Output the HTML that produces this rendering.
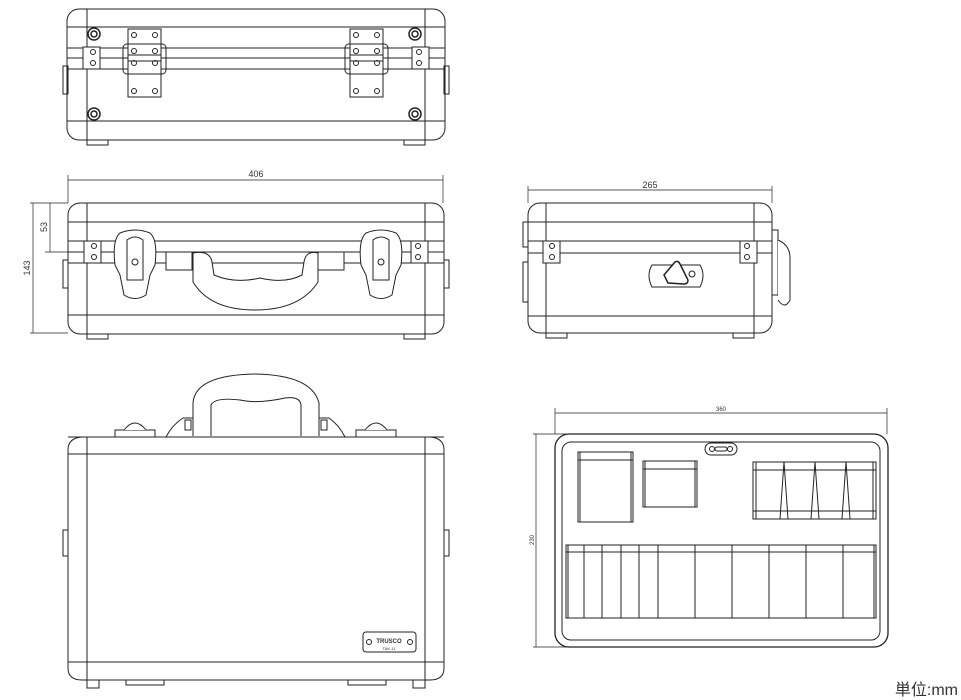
<!DOCTYPE html>
<html><head><meta charset="utf-8"><style>
html,body{margin:0;padding:0;background:#fff;}
svg{display:block;}
text{font-family:"Liberation Sans",sans-serif;fill:#333;}
</style></head><body>
<svg width="961" height="700" viewBox="0 0 961 700" xmlns="http://www.w3.org/2000/svg" fill="none" stroke="#222" stroke-width="1">
<!-- ===== VIEW 1 (top/back) ===== -->
<rect x="67" y="9" width="378" height="131" rx="12"/>
<line x1="87" y1="9" x2="87" y2="140"/><line x1="425" y1="9" x2="425" y2="140"/>
<line x1="67" y1="27" x2="445" y2="27"/>
<line x1="67" y1="48" x2="445" y2="48"/>
<line x1="67" y1="58" x2="445" y2="58"/>
<line x1="67" y1="69" x2="445" y2="69"/>
<line x1="67" y1="121" x2="445" y2="121"/>
<rect x="87" y="140" width="21" height="5"/><rect x="404" y="140" width="21" height="5"/>
<g stroke-width="1.5">
<circle cx="94" cy="34" r="6"/><circle cx="94" cy="34" r="3"/>
<circle cx="415" cy="34" r="6"/><circle cx="415" cy="34" r="3"/>
<circle cx="94" cy="114" r="6"/><circle cx="94" cy="114" r="3"/>
<circle cx="415" cy="114" r="6"/><circle cx="415" cy="114" r="3"/>
</g>
<rect x="128" y="29" width="33" height="68" fill="#fff"/>
<rect x="123" y="44" width="43" height="30" rx="4"/>
<rect x="128" y="55" width="33" height="6"/>
<circle cx="134" cy="35" r="2.5"/><circle cx="155" cy="35" r="2.5"/>
<circle cx="134" cy="51" r="2.5"/><circle cx="155" cy="51" r="2.5"/>
<circle cx="134" cy="63" r="2.5"/><circle cx="155" cy="63" r="2.5"/>
<circle cx="134" cy="91" r="2.5"/><circle cx="155" cy="91" r="2.5"/>
<rect x="350" y="29" width="33" height="68" fill="#fff"/>
<rect x="345" y="44" width="43" height="30" rx="4"/>
<rect x="350" y="55" width="33" height="6"/>
<circle cx="356" cy="35" r="2.5"/><circle cx="377" cy="35" r="2.5"/>
<circle cx="356" cy="51" r="2.5"/><circle cx="377" cy="51" r="2.5"/>
<circle cx="356" cy="63" r="2.5"/><circle cx="377" cy="63" r="2.5"/>
<circle cx="356" cy="91" r="2.5"/><circle cx="377" cy="91" r="2.5"/>
<rect x="83" y="47" width="17" height="22" fill="#fff"/><circle cx="93" cy="52" r="2.5"/><circle cx="93" cy="63" r="2.5"/>
<rect x="412" y="47" width="17" height="22" fill="#fff"/><circle cx="419" cy="52" r="2.5"/><circle cx="419" cy="63" r="2.5"/>
<rect x="63" y="66" width="5" height="28"/><rect x="444" y="66" width="5" height="28"/>

<!-- ===== VIEW 2 (front) ===== -->
<line x1="68" y1="175" x2="68" y2="203" stroke-width="0.7"/>
<line x1="443" y1="175" x2="443" y2="203" stroke-width="0.7"/>
<line x1="68" y1="180" x2="443" y2="180" stroke-width="0.7"/>
<text x="256" y="177" font-size="9" stroke="none" text-anchor="middle">406</text>
<line x1="30" y1="203" x2="68" y2="203" stroke-width="0.7"/>
<line x1="30" y1="333" x2="68" y2="333" stroke-width="0.7"/>
<line x1="45" y1="252" x2="68" y2="252" stroke-width="0.7"/>
<line x1="33" y1="203" x2="33" y2="333" stroke-width="0.7"/>
<line x1="50" y1="203" x2="50" y2="252" stroke-width="0.7"/>
<text transform="translate(30,268) rotate(-90)" font-size="9" stroke="none" text-anchor="middle">143</text>
<text transform="translate(47,227) rotate(-90)" font-size="9" stroke="none" text-anchor="middle">53</text>
<rect x="68" y="203" width="376" height="131" rx="12"/>
<line x1="87" y1="203" x2="87" y2="334"/><line x1="425" y1="203" x2="425" y2="334"/>
<line x1="68" y1="222" x2="444" y2="222"/>
<line x1="68" y1="241" x2="444" y2="241"/>
<line x1="68" y1="252" x2="444" y2="252"/>
<line x1="68" y1="263" x2="444" y2="263"/>
<line x1="68" y1="315" x2="444" y2="315"/>
<rect x="87" y="334" width="21" height="5"/><rect x="404" y="334" width="21" height="5"/>
<rect x="84" y="241" width="17" height="22" fill="#fff"/><circle cx="94" cy="246" r="2.5"/><circle cx="94" cy="257" r="2.5"/>
<rect x="411" y="241" width="17" height="22" fill="#fff"/><circle cx="418" cy="246" r="2.5"/><circle cx="418" cy="257" r="2.5"/>
<rect x="63" y="260" width="5" height="28"/><rect x="444" y="260" width="5" height="28"/>
<!-- handle -->
<rect x="166" y="252" width="26" height="18" fill="#fff"/><rect x="318" y="252" width="26" height="18" fill="#fff"/>
<path d="M193 253 Q210 250 212 262 L214 275 Q235 284 260 278 Q285 284 302 275 L304 262 Q306 250 318 253 L318 282 Q300 310 255 310 Q210 310 193 282 Z" fill="#fff"/>
<!-- latches -->
<g fill="#fff">
<path d="M120 233 Q135 227 150 233 Q158 240 155 265 L150 275 L146 295 Q135 302 124 295 L120 275 L115 265 Q112 240 120 233 Z"/>
<path d="M127 240 Q135 234 143 240 L143 280 L127 280 Z"/>
<circle cx="135" cy="262" r="3"/>
<path d="M366 233 Q381 227 396 233 Q404 240 401 265 L396 275 L392 295 Q381 302 370 295 L366 275 L361 265 Q358 240 366 233 Z"/>
<path d="M373 240 Q381 234 389 240 L389 280 L373 280 Z"/>
<circle cx="381" cy="262" r="3"/>
</g>

<!-- ===== VIEW 3 (side) ===== -->
<line x1="528" y1="186" x2="528" y2="203" stroke-width="0.7"/>
<line x1="772" y1="186" x2="772" y2="203" stroke-width="0.7"/>
<line x1="528" y1="190" x2="772" y2="190" stroke-width="0.7"/>
<text x="650" y="188" font-size="9" stroke="none" text-anchor="middle">265</text>
<rect x="528" y="203" width="244" height="130" rx="12"/>
<line x1="546" y1="203" x2="546" y2="333"/><line x1="754" y1="203" x2="754" y2="333"/>
<line x1="528" y1="222" x2="772" y2="222"/>
<line x1="528" y1="241" x2="772" y2="241"/>
<line x1="528" y1="253" x2="772" y2="253"/>
<line x1="528" y1="316" x2="772" y2="316"/>
<rect x="546" y="333" width="21" height="5"/><rect x="733" y="333" width="21" height="5"/>
<rect x="543" y="241" width="17" height="22" fill="#fff"/><circle cx="552" cy="246" r="2.5"/><circle cx="552" cy="257" r="2.5"/>
<rect x="740" y="241" width="17" height="22" fill="#fff"/><circle cx="747" cy="246" r="2.5"/><circle cx="747" cy="257" r="2.5"/>
<rect x="523" y="222" width="5" height="25"/><rect x="523" y="262" width="5" height="40"/>
<path d="M772 230 L778 230 L778 295 L772 295" /><path d="M778 240 Q790 245 790 258 L790 300 Q785 310 778 300" fill="#fff"/>
<path d="M652 265 L700 265 Q706 275 700 287 L652 287 Q646 275 652 265 Z" fill="#fff"/>
<path d="M664 275 L675 262 Q678 260 680 264 L688 280 Q688 284 684 284 L668 283 Z" fill="#fff" stroke-width="1.5"/>
<circle cx="692" cy="274" r="3"/>

<!-- ===== VIEW 4 (large side) ===== -->
<path d="M82 437 Q68 438 68 450 L68 668 Q68 680 82 680 L430 680 Q444 680 444 668 L444 450 Q444 438 430 437 Z"/>
<line x1="87" y1="437" x2="87" y2="680"/><line x1="425" y1="437" x2="425" y2="680"/>
<line x1="68" y1="454" x2="444" y2="454"/>
<line x1="68" y1="662" x2="444" y2="662"/>
<line x1="68" y1="437" x2="444" y2="437"/>
<rect x="87" y="680" width="12" height="8"/><rect x="413" y="680" width="12" height="8"/>
<rect x="126" y="680" width="38" height="5"/><rect x="348" y="680" width="38" height="5"/>
<rect x="63" y="530" width="5" height="26"/><rect x="444" y="530" width="5" height="26"/>
<!-- top handle -->
<path d="M193 436 L193 403 Q195 375 255 374 Q312 375 319 403 L319 436" fill="#fff"/>
<path d="M211 436 L211 405 Q215 397 240 400 Q258 404 285 398 Q300 396 301 405 L301 436" fill="#fff"/>
<path d="M166 437 Q172 425 183 418 L193 418 M345 437 Q339 425 329 418 L319 418"/>
<line x1="166" y1="437" x2="211" y2="437"/><line x1="301" y1="437" x2="346" y2="437"/>
<rect x="185" y="420" width="6" height="10"/><rect x="321" y="420" width="6" height="10"/>
<rect x="115" y="430" width="40" height="7" fill="#fff"/><path d="M124 430 Q135 416 146 430" fill="#fff"/>
<rect x="356" y="430" width="40" height="7" fill="#fff"/><path d="M365 430 Q376 416 387 430" fill="#fff"/>
<rect x="363" y="632" width="53" height="20" rx="3"/>
<circle cx="369" cy="642" r="2.5"/><circle cx="410" cy="642" r="2.5"/>
<text x="389" y="643" font-size="6" font-weight="bold" stroke="none" text-anchor="middle">TRUSCO</text>
<text x="389" y="650" font-size="4" stroke="none" text-anchor="middle">TAK-11</text>

<!-- ===== VIEW 5 (insert) ===== -->
<line x1="555" y1="408" x2="555" y2="434" stroke-width="0.7"/>
<line x1="887" y1="408" x2="887" y2="434" stroke-width="0.7"/>
<line x1="555" y1="413" x2="887" y2="413" stroke-width="0.7"/>
<text x="721" y="411" font-size="6" stroke="none" text-anchor="middle">360</text>
<line x1="533" y1="434" x2="588" y2="434" stroke-width="0.7"/>
<line x1="533" y1="647" x2="588" y2="647" stroke-width="0.7"/>
<line x1="536" y1="434" x2="536" y2="647" stroke-width="0.7"/>
<text transform="translate(534,540) rotate(-90)" font-size="6" stroke="none" text-anchor="middle">230</text>
<rect x="555" y="434" width="333" height="213" rx="14" stroke-width="1.3"/>
<rect x="562" y="442" width="318" height="198" rx="9"/>
<rect x="705" y="443" width="32" height="12" rx="6"/>
<circle cx="712" cy="449" r="2.5"/><circle cx="730" cy="449" r="2.5"/><rect x="715" y="447" width="12" height="4" rx="2"/>
<rect x="578" y="452" width="55" height="70"/><line x1="578" y1="460" x2="633" y2="460"/><line x1="580" y1="452" x2="580" y2="522"/><line x1="631" y1="452" x2="631" y2="522"/>
<rect x="643" y="461" width="54" height="46"/><line x1="643" y1="469" x2="697" y2="469"/><line x1="645" y1="461" x2="645" y2="507"/><line x1="695" y1="461" x2="695" y2="507"/>
<rect x="753" y="462" width="123" height="57"/>
<line x1="753" y1="470" x2="876" y2="470"/><line x1="753" y1="511" x2="876" y2="511"/>
<line x1="756" y1="462" x2="756" y2="519"/><line x1="873" y1="462" x2="873" y2="519"/>
<path d="M780 519 L784 462 L788 519 M811 519 L815 462 L819 519 M842 519 L846 462 L850 519"/>
<rect x="566" y="545" width="310" height="73"/>
<line x1="566" y1="552" x2="876" y2="552"/>
<line x1="568" y1="545" x2="568" y2="618"/><line x1="874" y1="545" x2="874" y2="618"/>
<path d="M584 545 V618 M602 545 V618 M621 545 V618 M639 545 V618 M658 545 V618 M695 545 V618 M732 545 V618 M769 545 V618 M806 545 V618 M843 545 V618"/>
<text x="958" y="695" font-size="16" stroke="none" text-anchor="end" font-family="'Liberation Sans','Noto Sans CJK JP',sans-serif">単位:mm</text>
</svg>
</body></html>
